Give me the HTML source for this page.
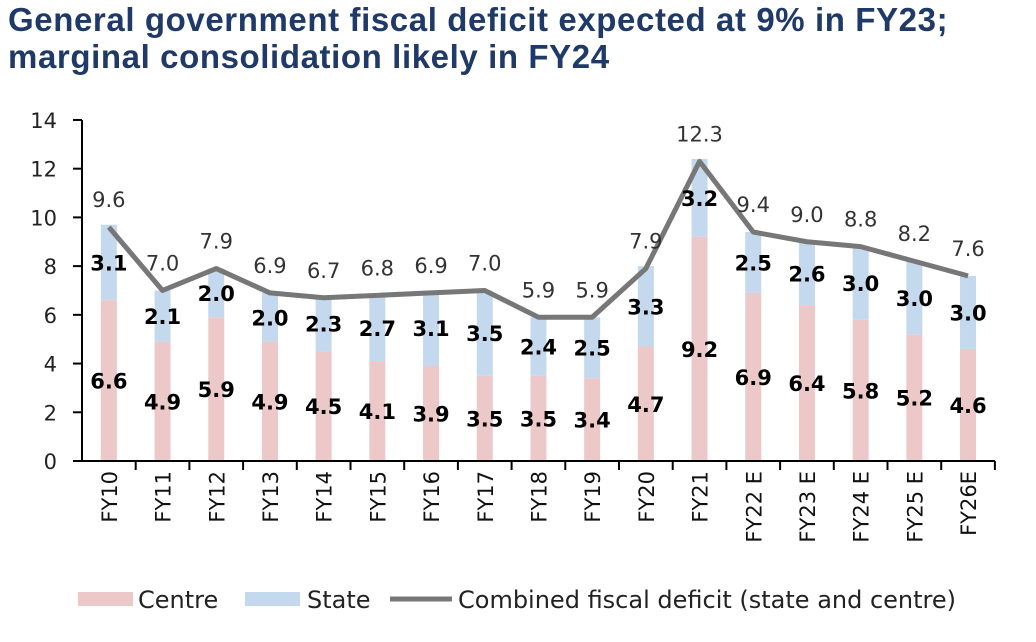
<!DOCTYPE html>
<html><head><meta charset="utf-8"><style>
body{margin:0;background:#fff;width:1036px;height:642px;overflow:hidden;font-family:"Liberation Sans",sans-serif}
.t{position:absolute;left:8px;top:1px;font-weight:bold;color:#1f3a68;font-size:33px;line-height:37px;letter-spacing:0.6px;font-family:"Liberation Sans",sans-serif;white-space:nowrap}
</style></head><body>
<div class="t">General government fiscal deficit expected at 9% in FY23;<br>marginal consolidation likely in FY24</div>
<svg id="c" width="1036" height="642" style="position:absolute;left:0;top:0"></svg>
<script>
const categories=["FY10","FY11","FY12","FY13","FY14","FY15","FY16","FY17","FY18","FY19","FY20","FY21","FY22 E","FY23 E","FY24 E","FY25 E","FY26E"];
const centre=[6.6,4.9,5.9,4.9,4.5,4.1,3.9,3.5,3.5,3.4,4.7,9.2,6.9,6.4,5.8,5.2,4.6];
const state=[3.1,2.1,2.0,2.0,2.3,2.7,3.1,3.5,2.4,2.5,3.3,3.2,2.5,2.6,3.0,3.0,3.0];
const combined=[9.6,7.0,7.9,6.9,6.7,6.8,6.9,7.0,5.9,5.9,7.9,12.3,9.4,9.0,8.8,8.2,7.6];
const yTicks=[0,2,4,6,8,10,12,14];
const NS="http://www.w3.org/2000/svg",svg=document.getElementById('c');
const x0=82,bw=53.7,y0=461,k=24.36;
const X=i=>x0+bw*(i+0.5),Y=v=>y0-v*k;
function el(t,a,txt){const e=document.createElementNS(NS,t);for(const n in a)e.setAttribute(n,a[n]);if(txt!=null)e.textContent=txt;svg.appendChild(e);return e;}
const F='DejaVu Sans, Liberation Sans, sans-serif';
yTicks.forEach(v=>{
const l=el('line',{x1:73,x2:82,y1:Y(v),y2:Y(v),stroke:'#000','stroke-width':2});

const t=el('text',{x:57,y:Y(v)+8,'text-anchor':'end','font-size':21,'font-family':F,fill:'#222'},v);

});
categories.forEach((c,i)=>{
const b1=el('rect',{x:X(i)-8,y:Y(centre[i]),width:16,height:centre[i]*k,fill:'#ecc8c8'});

const b2=el('rect',{x:X(i)-8,y:Y(centre[i]+state[i]),width:16,height:state[i]*k,fill:'#c4d9ed'});

const tk=el('line',{x1:x0+bw*(i+1),x2:x0+bw*(i+1),y1:y0,y2:y0+9,stroke:'#000','stroke-width':2});

const xl=el('text',{transform:`translate(${X(i)+8},471) rotate(-90)`,'text-anchor':'end','font-size':21,'font-family':F,fill:'#111'},c);

});
el('line',{x1:82,x2:82,y1:Y(14),y2:y0+1,stroke:'#000','stroke-width':2});
el('line',{x1:73,x2:x0+bw*17,y1:y0,y2:y0,stroke:'#000','stroke-width':2});
const ln=el('polyline',{points:combined.map((v,i)=>X(i)+','+Y(v)).join(' '),fill:'none',stroke:'#777','stroke-width':5,'stroke-linejoin':'round'});

categories.forEach((c,i)=>{
const a=el('text',{x:X(i),y:Y(centre[i]/2)+8,'text-anchor':'middle','font-size':21,'font-weight':'bold','font-family':F,fill:'#000'},centre[i].toFixed(1));

const b=el('text',{x:X(i),y:Y(centre[i]+state[i]/2)+8,'text-anchor':'middle','font-size':21,'font-weight':'bold','font-family':F,fill:'#000'},state[i].toFixed(1));

const d=el('text',{x:X(i),y:Y(combined[i])-20,'text-anchor':'middle','font-size':21,'font-family':F,fill:'#333'},combined[i].toFixed(1));

});
const lg=[['rect','#ecc8c8','Centre',78,138],['rect','#c4d9ed','State',245,307],['line','#777','Combined fiscal deficit (state and centre)',390,458]];
lg.forEach(g=>{
if(g[0]=='rect'){const r=el('rect',{x:g[3],y:592,width:55,height:14,fill:g[1]});}
else{const r=el('line',{x1:g[3],x2:g[3]+62,y1:599,y2:599,stroke:g[1],'stroke-width':5});}
const t=el('text',{x:g[4],y:608,'font-size':24,'font-family':F,fill:'#222'},g[2]);

});
</script>
</body></html>
